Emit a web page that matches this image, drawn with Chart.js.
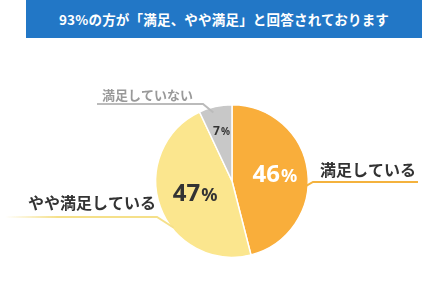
<!DOCTYPE html>
<html>
<head>
<meta charset="utf-8">
<script src="https://cdn.jsdelivr.net/npm/chart.js@4"></script>
<style>
  html, body { margin: 0; padding: 0; background: #fff; }
  .wrap { position: relative; width: 447px; height: 283px; }
  .title {
    position: absolute; left: 26px; top: 0; width: 396px; height: 38px;
    background: #2277c6; color: #fff; font: bold 13.5px "Noto Sans CJK JP", sans-serif;
    display: flex; align-items: center; justify-content: center; letter-spacing: 0.2px;
  }
  canvas { position: absolute; left: 0; top: 0; }
</style>
</head>
<body>
<div class="wrap">
  <canvas id="myChart" width="447" height="283"></canvas>
  <div class="title">93%の方が「満足、やや満足」と回答されております</div>
</div>
<script>
const categories = ["満足している", "やや満足している", "満足していない"];
const values = [46, 47, 7];
const colors = ["#f9ae3b", "#fbe68e", "#c8c8c8"];

// where each callout label sits (text pos, underline start/end, text style)
const callouts = [
  { x: 320, y: 176, lineY: 182, x0: 313, x1: 418, color: "#333", line: "#f4b23e", font: "bold 16px 'Noto Sans CJK JP'" },
  { x: 28, y: 209, lineY: 217, x0: 5, x1: 157, color: "#333", line: "#f5e08a", font: "bold 16px 'Noto Sans CJK JP'", fade: true },
  { x: 102, y: 100, lineY: 104, x0: 97, x1: 203, color: "#999", line: "#bbb", font: "bold 13px 'Noto Sans CJK JP'" }
];
const pctPos = [0.56, 0.52, 0.66];

const labelsPlugin = {
  id: 'labels',
  afterDatasetsDraw(chart) {
    const ctx = chart.ctx;
    const meta = chart.getDatasetMeta(0);
    meta.data.forEach((arc, i) => {
      const mid = (arc.startAngle + arc.endAngle) / 2;
      const r = arc.outerRadius;
      // callout line
      const c = callouts[i];
      const ex = arc.x + Math.cos(mid) * r, ey = arc.y + Math.sin(mid) * r;
      ctx.save();
      ctx.lineWidth = 2;
      let stroke = c.line;
      if (c.fade) {
        const g = ctx.createLinearGradient(c.x0, 0, c.x1, 0);
        g.addColorStop(0, "rgba(245,224,138,0)");
        g.addColorStop(0.35, c.line);
        g.addColorStop(1, c.line);
        stroke = g;
      }
      ctx.strokeStyle = stroke;
      ctx.beginPath();
      if (i === 0) {
        ctx.moveTo(c.x1, c.lineY);
        ctx.lineTo(c.x0, c.lineY);
        ctx.lineTo(arc.x + Math.cos(0.05) * r - 2, arc.y + Math.sin(0.05) * r + 1);
      } else if (i === 1) {
        ctx.moveTo(c.x0, c.lineY);
        ctx.lineTo(c.x1, c.lineY);
        const a = Math.PI * 0.79;
        ctx.lineTo(arc.x + Math.cos(a) * r + 2, arc.y + Math.sin(a) * r);
      } else {
        ctx.moveTo(c.x0, c.lineY);
        ctx.lineTo(c.x1, c.lineY);
        ctx.lineTo(ex - 2, ey + 6);
      }
      ctx.stroke();
      ctx.fillStyle = c.color;
      ctx.font = c.font;
      ctx.textBaseline = 'alphabetic';
      ctx.fillText(categories[i], c.x, c.y);
      ctx.restore();

      // percent label
      const pr = r * pctPos[i];
      const px = arc.x + Math.cos(mid) * pr, py = arc.y + Math.sin(mid) * pr;
      const big = i === 2 ? 12 : 24;
      const small = i === 2 ? 10 : 18;
      ctx.save();
      ctx.fillStyle = i === 0 ? "#fff" : "#333";
      ctx.textBaseline = 'middle';
      ctx.font = "bold " + big + "px 'Noto Sans', sans-serif";
      const num = String(values[i]);
      const w1 = ctx.measureText(num).width;
      ctx.font = "bold " + small + "px 'Noto Sans', sans-serif";
      const w2 = ctx.measureText('%').width;
      const sx = px - (w1 + w2) / 2;
      ctx.font = "bold " + big + "px 'Noto Sans', sans-serif";
      ctx.fillText(num, sx, py);
      ctx.font = "bold " + small + "px 'Noto Sans', sans-serif";
      ctx.fillText('%', sx + w1 + 1, py + (big - small) * 0.2);
      ctx.restore();
    });
  }
};

new Chart(document.getElementById('myChart').getContext('2d'), {
  type: 'pie',
  data: {
    labels: categories,
    datasets: [{
      data: values,
      backgroundColor: colors,
      borderColor: "#fff",
      borderWidth: 1.5
    }]
  },
  options: {
    responsive: false,
    animation: false,
    layout: { padding: { left: 155, right: 138, top: 104, bottom: 25 } },
    plugins: { legend: { display: false }, tooltip: { enabled: false } }
  },
  plugins: [labelsPlugin]
});
</script>
</body>
</html>
